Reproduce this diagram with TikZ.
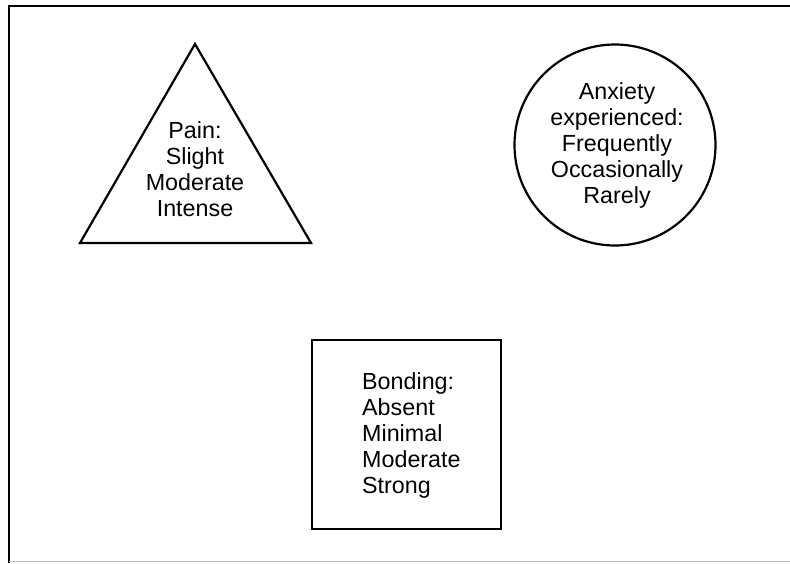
\documentclass[tikz,border=0pt]{standalone}
\usepackage{fontspec}
\setmainfont{Liberation Sans}

\begin{document}
\begin{tikzpicture}[x=1pt, y=-1pt,
	outline/.style={line width=2.2pt},
	txt/.style={inner sep=0pt, font=\fontsize{23.3}{26}\selectfont}]
			%%%%% START %%%%%
			\useasboundingbox (0, 0) rectangle (790, 563);
			
			\draw[line width=2.5pt] (9, 563) -- (9, 6) -- (790, 6);
			\draw[line width=1pt, color=black!25] (9, 561.5) -- (790, 561.5);
			
			\draw[outline, line join=miter] (80, 243) -- (195, 44) -- (311, 243) -- cycle;
			\node[txt, align=center] (pain) at (195, 169.5) {Pain:\\Slight\\Moderate\\Intense};
			
			\draw[outline] (615, 145) circle (100.5pt);
			\node[txt, align=center] (anxiety) at (617, 145) {Anxiety\\experienced:\\Frequently\\Occasionally\\Rarely};
			
			\draw[outline] (312, 340) rectangle (501, 529);
			\node[txt, align=left, anchor=west] (bonding) at (362, 435.5) {Bonding:\\Absent\\Minimal\\Moderate\\Strong};
			
			%%%%% END %%%%%
\end{tikzpicture}
\end{document}
